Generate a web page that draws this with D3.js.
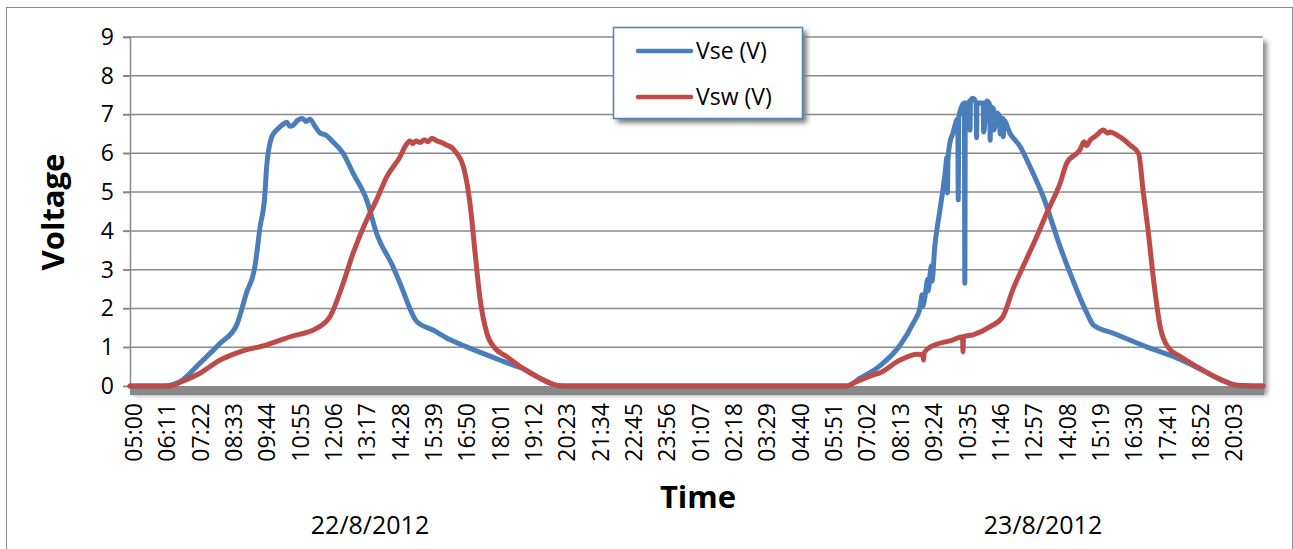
<!DOCTYPE html>
<html>
<head>
<meta charset="utf-8">
<script src="https://cdn.jsdelivr.net/npm/d3@7/dist/d3.min.js"></script>
<style>
  html, body { margin: 0; padding: 0; background: #fff; }
  svg { display: block; font-family: "Open Sans", sans-serif; }
</style>
</head>
<body>
<svg id="chart" width="1293" height="549"></svg>
<script>
// ---------------- DATA ----------------
const xTickLabels = ["22 05:00","22 06:11","22 07:22","22 08:33","22 09:44","22 10:55","22 12:06","22 13:17","22 14:28","22 15:39","22 16:50","22 18:01","22 19:12","22 20:23","22 21:34","22 22:45","22 23:56","23 01:07","23 02:18","23 03:29","23 04:40","23 05:51","23 07:02","23 08:13","23 09:24","23 10:35","23 11:46","23 12:57","23 14:08","23 15:19","23 16:30","23 17:41","23 18:52","23 20:03"];
const yTicks = [0,1,2,3,4,5,6,7,8,9];
const dateLabels = ["22/8/2012","23/8/2012"];
const seriesNames = ["Vse (V)","Vsw (V)"];

const vseTime = ["22 04:53","22 06:03","22 06:39","22 07:22","22 08:05","22 08:40","22 09:01","22 09:19","22 09:30","22 09:40","22 09:44","22 09:55","22 10:05","22 10:16","22 10:27","22 10:33","22 10:40","22 10:50","22 11:01","22 11:08","22 11:16","22 11:27","22 11:38","22 11:50","22 12:05","22 12:27","22 12:48","22 13:17","22 13:38","22 14:13","22 14:28","22 15:04","22 15:39","22 16:15","22 16:50","22 18:01","22 18:29","22 18:44","22 19:26","22 19:58","22 20:09",
"23 06:20","23 06:48","23 07:30","23 08:13","23 08:41","23 08:56","23 09:00","23 09:01","23 09:06","23 09:12","23 09:13","23 09:17","23 09:20","23 09:21","23 09:27","23 09:38","23 09:49","23 09:53","23 09:54","23 09:55","23 09:59","23 10:05","23 10:14","23 10:16","23 10:17","23 10:18","23 10:24","23 10:30","23 10:31","23 10:32","23 10:36","23 10:37","23 10:41","23 10:42","23 10:43","23 10:48","23 10:55","23 10:56","23 10:57","23 11:05","23 11:10","23 11:11","23 11:18","23 11:24","23 11:25","23 11:26","23 11:32","23 11:33","23 11:39","23 11:45","23 11:46","23 11:52","23 11:53","23 11:54","23 12:07","23 12:29","23 12:50","23 13:18","23 13:54","23 14:21","23 14:51","23 15:05","23 15:47","23 16:58","23 17:55","23 18:45","23 19:35","23 20:10","23 20:28","23 21:06"];
const vseValue = [0,0,0.11,0.59,1.1,1.57,2.4,3.08,4.1,4.9,5.65,6.43,6.6,6.72,6.8,6.7,6.72,6.85,6.9,6.82,6.88,6.7,6.52,6.47,6.3,6.0,5.49,4.8,3.94,3.08,2.65,1.66,1.44,1.19,1.01,0.67,0.54,0.48,0.2,0.03,0,
0,0.2,0.52,1.05,1.62,2.04,2.35,2.05,2.3,2.75,2.45,2.9,3.1,2.7,3.6,4.54,5.49,5.9,4.98,5.8,6.26,6.5,6.86,6.9,4.8,6.9,7.2,7.3,2.65,7.3,7.3,6.75,7.35,6.6,7.35,7.42,7.3,6.4,7.3,7.3,7.3,6.55,7.35,7.25,6.34,7.2,7.15,6.6,7.04,6.95,6.5,6.9,6.43,6.85,6.52,6.17,5.65,4.88,3.59,2.73,1.88,1.57,1.36,1.01,0.76,0.48,0.17,0.02,0,0];

const vswTime = ["22 04:53","22 06:18","22 06:39","22 07:22","22 08:05","22 08:47","22 09:44","22 10:34","22 11:31","22 11:59","22 12:27","22 12:48","22 13:17","22 13:38","22 14:00","22 14:28","22 14:40","22 14:49","22 14:55","22 15:02","22 15:11","22 15:20","22 15:27","22 15:36","22 15:45","22 16:00","22 16:08","22 16:18","22 16:29","22 16:43","22 16:57","22 17:08","22 17:18","22 17:33","22 17:50","22 18:15","22 18:44","22 19:26","22 19:58","22 20:19",
"23 06:20","23 06:33","23 07:15","23 07:30","23 08:13","23 08:50","23 09:02","23 09:03","23 09:04","23 09:17","23 10:06","23 10:26","23 10:27","23 10:28","23 10:48","23 11:25","23 11:52","23 12:13","23 12:35","23 13:04","23 13:25","23 13:54","23 14:08","23 14:36","23 14:45","23 14:50","23 14:58","23 15:10","23 15:26","23 15:35","23 15:40","23 15:55","23 16:10","23 16:23","23 16:41","23 16:51","23 17:02","23 17:13","23 17:27","23 17:45","23 18:10","23 18:45","23 19:35","23 20:10","23 21:06"];
const vswValue = [0,0,0.09,0.33,0.67,0.88,1.06,1.27,1.49,1.79,2.65,3.42,4.28,4.8,5.4,5.91,6.2,6.32,6.25,6.32,6.28,6.35,6.3,6.39,6.33,6.26,6.21,6.15,6.0,5.66,4.72,3.43,2.3,1.36,0.98,0.76,0.5,0.2,0.03,0,
0,0.07,0.28,0.34,0.67,0.82,0.8,0.67,0.85,1.0,1.19,1.27,0.88,1.27,1.32,1.53,1.79,2.48,3.08,3.85,4.45,5.23,5.75,6.09,6.3,6.2,6.34,6.45,6.6,6.52,6.55,6.47,6.35,6.21,6.0,5.0,3.94,2.73,1.53,0.98,0.76,0.5,0.17,0.02,0];

const colors = ["#4a7ebb", "#be4b48"];

// ---------------- CHART ----------------
const parse = d3.timeParse("%d %H:%M");
const svg = d3.select("#chart");
const L = 130, R = 1263, T = 37, B = 386;

const x = d3.scaleTime().domain([parse("22 04:53"), parse("23 21:06")]).range([L, R]);
const y = d3.scaleLinear().domain([0, 9]).range([B, T]);

const defs = svg.append("defs");
const blur = defs.append("filter").attr("id", "blur").attr("x", "-10%").attr("y", "-10%").attr("width", "120%").attr("height", "120%");
blur.append("feGaussianBlur").attr("stdDeviation", 2.5);

// outer border
svg.append("rect").attr("x", 6.5).attr("y", 7.5).attr("width", 1286).attr("height", 560)
  .attr("fill", "#fff").attr("stroke", "#8c8c8c").attr("stroke-width", 1);

// plot area shadow
svg.append("rect").attr("x", L + 4).attr("y", T + 4).attr("width", R - L).attr("height", B - T + 5)
  .attr("fill", "#8a8a8a").attr("filter", "url(#blur)");
svg.append("rect").attr("x", L).attr("y", T).attr("width", R - L).attr("height", B - T).attr("fill", "#fff");
// bottom band
svg.append("rect").attr("x", L).attr("y", B).attr("width", R - L + 1).attr("height", 9).attr("fill", "#898989");

// gridlines
svg.append("g").selectAll("line").data(yTicks.filter(d => d > 0)).join("line")
  .attr("x1", L - 7).attr("x2", R).attr("y1", d => y(d)).attr("y2", d => y(d))
  .attr("stroke", "#8a8a8a").attr("stroke-width", 1.5);

// y axis
const yAxis = svg.append("g").attr("transform", `translate(${L},0)`)
  .call(d3.axisLeft(y).tickValues(yTicks).tickSize(7).tickPadding(9).tickFormat(d3.format("d")));
yAxis.select(".domain").attr("stroke", "#8a8a8a").attr("stroke-width", 1.5);
yAxis.selectAll(".tick line").attr("stroke", "#8a8a8a").attr("stroke-width", 1.5);
yAxis.selectAll(".tick text").attr("font-size", 23).attr("fill", "#000").attr("font-family", "Open Sans");

// x axis labels
const xAxis = svg.append("g").attr("transform", `translate(0,${B})`)
  .call(d3.axisBottom(x).tickValues(xTickLabels.map(parse)).tickSize(0).tickFormat(d3.timeFormat("%H:%M")));
xAxis.select(".domain").remove();
xAxis.selectAll(".tick text")
  .attr("font-size", 23).attr("fill", "#000").attr("font-family", "Open Sans")
  .attr("text-anchor", "end")
  .attr("transform", "rotate(-90)")
  .attr("x", -17).attr("y", 0).attr("dy", "0.36em");

// lines
const line = d3.line().x(d => x(d[0])).y(d => y(d[1])).curve(d3.curveMonotoneX);
const series = [
  d3.zip(vseTime.map(parse), vseValue),
  d3.zip(vswTime.map(parse), vswValue)
];
svg.append("g").selectAll("path").data(series).join("path")
  .attr("d", line).attr("fill", "none")
  .attr("stroke", (d, i) => colors[i]).attr("stroke-width", 5)
  .attr("stroke-linejoin", "round").attr("stroke-linecap", "round");

// axis titles
svg.append("text").attr("x", 698).attr("y", 508).attr("text-anchor", "middle")
  .attr("font-size", 31).attr("font-weight", "bold").text("Time");
svg.append("text").attr("transform", "translate(64,212) rotate(-90)").attr("text-anchor", "middle")
  .attr("font-size", 31).attr("font-weight", "bold").text("Voltage");

// date labels
svg.append("g").selectAll("text").data(dateLabels).join("text")
  .attr("x", (d, i) => [370, 1043][i]).attr("y", 534).attr("text-anchor", "middle")
  .attr("font-size", 25).text(d => d);

// legend
const lg = svg.append("g");
lg.append("rect").attr("x", 617).attr("y", 31).attr("width", 190).attr("height", 92)
  .attr("fill", "#7f7f7f").attr("filter", "url(#blur)");
lg.append("rect").attr("x", 613.5).attr("y", 27.5).attr("width", 189).attr("height", 91)
  .attr("fill", "#fff").attr("stroke", "#4f81bd").attr("stroke-width", 1.5);
const li = lg.selectAll("g.item").data(seriesNames).join("g").attr("class", "item")
  .attr("transform", (d, i) => `translate(0,${51 + i * 46})`);
li.append("line").attr("x1", 638).attr("x2", 691).attr("y1", 0).attr("y2", 0)
  .attr("stroke", (d, i) => colors[i]).attr("stroke-width", 4.5).attr("stroke-linecap", "round");
li.append("text").attr("x", 696).attr("y", 0).attr("dy", "0.36em").attr("font-size", 23).text(d => d);
</script>
</body>
</html>
